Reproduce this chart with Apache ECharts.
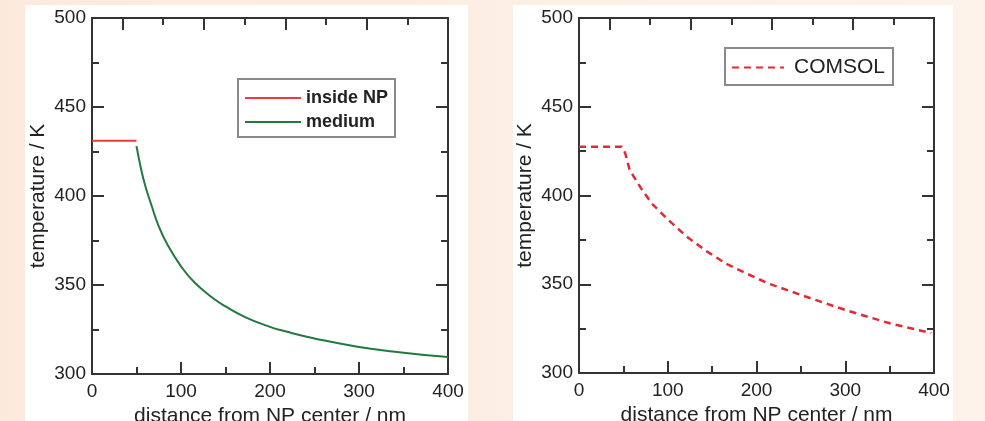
<!DOCTYPE html>
<html>
<head>
<meta charset="utf-8">
<script src="https://cdn.jsdelivr.net/npm/echarts@6/dist/echarts.min.js"></script>
<style>
  html, body { margin: 0; padding: 0; }
  #chart { width: 985px; height: 421px; }
</style>
</head>
<body>
<div id="chart"></div>
<script>
// values: [distance nm, temperature K]
var insideNP = [[0, 431], [50, 431]];
var medium = [
  [50, 428], [55, 415.5], [60, 405.5], [67, 394.5], [75, 383], [85, 372.5],
  [100, 360.5], [115, 351.5], [135, 343], [150, 338], [172, 332], [200, 326.5],
  [217, 324], [250, 320], [300, 315.2], [350, 312], [400, 309.5]
];
var comsol = [
  [0, 427.5], [48, 427.5], [52, 424], [57, 414.5], [70, 404], [82, 395.5],
  [99, 387], [121, 377], [144, 368.5], [166, 361.5], [189, 356], [213, 350.5],
  [250, 344], [300, 335.5], [350, 328], [397, 322.5]
];
// odd tick spacing on the top frame of both panels
var topLongTicks = [34.5, 126, 217.5, 309];
var topShortTicks = [80, 172, 263, 355];

var fontFam = "Liberation Sans, Arial, sans-serif";
var ink = "#222";
var frame = { show: true, onZero: false, lineStyle: { color: "#333", width: 2 } };
var tickLine = { color: "#333", width: 2 };

function bottomAxis(grid) {
  return {
    type: "value", gridIndex: grid, position: "bottom",
    min: 0, max: 400, interval: 100,
    name: "distance from NP center / nm", nameLocation: "middle", nameGap: 29,
    nameTextStyle: { fontSize: 21, color: ink, fontFamily: fontFam, verticalAlign: "top" },
    axisLine: frame,
    axisTick: { inside: true, length: 12, lineStyle: tickLine },
    minorTick: { show: true, splitNumber: 2, length: 7, lineStyle: tickLine },
    axisLabel: { fontSize: 19, color: ink, fontFamily: fontFam, margin: 8 },
    splitLine: { show: false }
  };
}

function topAxis(grid, ticks, len) {
  return {
    type: "value", gridIndex: grid, position: "top",
    min: 0, max: 400,
    axisLine: frame,
    axisTick: { inside: true, length: len, customValues: ticks, lineStyle: tickLine },
    axisLabel: { show: false },
    splitLine: { show: false }
  };
}

function sideAxis(grid, pos) {
  return {
    type: "value", gridIndex: grid, position: pos,
    min: 300, max: 500, interval: 50,
    name: pos === "left" ? "temperature / K" : "",
    nameLocation: "middle", nameGap: 43, nameRotate: 90,
    nameTextStyle: { fontSize: 21, color: ink, fontFamily: fontFam },
    axisLine: frame,
    axisTick: { inside: true, length: 12, lineStyle: tickLine },
    minorTick: { show: true, splitNumber: 2, length: 7, lineStyle: tickLine },
    axisLabel: { show: pos === "left", fontSize: 19, color: ink, fontFamily: fontFam, margin: 6 },
    splitLine: { show: false }
  };
}

var chart = echarts.init(document.getElementById("chart"));

var option = {
  animation: false,
  backgroundColor: {
    type: "linear", x: 0, y: 0, x2: 1, y2: 0,
    colorStops: [{ offset: 0, color: "#fbeadc" }, { offset: 1, color: "#fdf3ea" }]
  },
  graphic: [
    { type: "rect", z: -10, shape: { x: 25, y: 5, width: 443, height: 420 }, style: { fill: "#fff" } },
    { type: "rect", z: -10, shape: { x: 513, y: 5, width: 440, height: 420 }, style: { fill: "#fff" } }
  ],
  grid: [
    { left: 92, top: 18, width: 356, height: 356, containLabel: false, outerBoundsMode: "none" },
    { left: 579, top: 18, width: 355, height: 355, containLabel: false, outerBoundsMode: "none" }
  ],
  xAxis: [
    bottomAxis(0), topAxis(0, topLongTicks, 12), topAxis(0, topShortTicks, 7),
    bottomAxis(1), topAxis(1, topLongTicks, 12), topAxis(1, topShortTicks, 7)
  ],
  yAxis: [sideAxis(0, "left"), sideAxis(0, "right"), sideAxis(1, "left"), sideAxis(1, "right")],
  legend: [
    {
      data: ["inside NP", "medium"], orient: "vertical",
      left: 238, top: 79,
      padding: [10, 7, 6, 6], itemGap: 6, itemWidth: 56, itemHeight: 18,
      borderColor: "#8a8a8a", borderWidth: 2, backgroundColor: "#fff",
      itemStyle: { opacity: 0 },
      textStyle: { fontSize: 18, fontWeight: "bold", color: ink, fontFamily: fontFam, lineHeight: 18 }
    },
    {
      data: ["COMSOL"], orient: "vertical",
      left: 725, top: 48,
      padding: [9, 8, 7, 6], itemWidth: 52, itemHeight: 21,
      borderColor: "#8a8a8a", borderWidth: 2, backgroundColor: "#fff",
      itemStyle: { opacity: 0 },
      textStyle: { fontSize: 21, color: ink, fontFamily: fontFam, lineHeight: 21, padding: [0, 0, 0, 5] }
    }
  ],
  series: [
    {
      name: "inside NP", type: "line", xAxisIndex: 0, yAxisIndex: 0,
      data: insideNP, symbol: "none",
      lineStyle: { color: "#f03a3a", width: 2 }, itemStyle: { color: "#f03a3a" }
    },
    {
      name: "medium", type: "line", xAxisIndex: 0, yAxisIndex: 0,
      data: medium, symbol: "none", smooth: 0.5,
      lineStyle: { color: "#1f7a3e", width: 2 }, itemStyle: { color: "#1f7a3e" }
    },
    {
      name: "COMSOL", type: "line", xAxisIndex: 3, yAxisIndex: 2,
      data: comsol, symbol: "none",
      lineStyle: { color: "#e32836", width: 2.5, type: [7, 5] }, itemStyle: { color: "#e32836" }
    }
  ]
};

option && chart.setOption(option);
</script>
</body>
</html>
